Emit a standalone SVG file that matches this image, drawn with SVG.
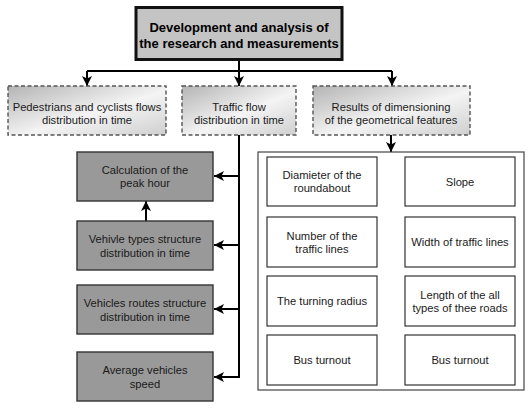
<svg xmlns="http://www.w3.org/2000/svg" width="532" height="409" viewBox="0 0 532 409">
<defs>
<linearGradient id="g" x1="0" y1="0" x2="1" y2="1">
<stop offset="0" stop-color="#b4b4b4"/>
<stop offset="0.55" stop-color="#f4f4f4"/>
<stop offset="1" stop-color="#cfcfcf"/>
</linearGradient>
<marker id="ah" markerUnits="userSpaceOnUse" markerWidth="12" markerHeight="12" refX="10" refY="5" orient="auto">
<path d="M0,0 L10,5 L0,10 L2.5,5 z" fill="#000"/>
</marker>
<style>
text{font-family:"Liberation Sans",Arial,sans-serif;font-size:11.2px;fill:#1a1a1a;text-anchor:middle}
.title{font-weight:bold;font-size:13px;fill:#000}
.top{fill:#c4c4c4;stroke:#111;stroke-width:3}
.dash{fill:url(#g);stroke:#555;stroke-width:1.4;stroke-dasharray:4 2.5}
.dark{fill:#999;stroke:#333;stroke-width:1.4}
.white{fill:#fff;stroke:#333;stroke-width:1.2}
.cont{fill:#fff;stroke:#444;stroke-width:1.2}
.c{fill:none;stroke:#000;stroke-width:2}
.a{fill:none;stroke:#000;stroke-width:2;marker-end:url(#ah)}
</style>
</defs>
<rect width="532" height="409" fill="#fff"/>
<g id="connectors">
<line class="c" x1="239" y1="60" x2="239" y2="71"/>
<line class="c" x1="87" y1="71" x2="392" y2="71"/>
<line class="a" x1="87" y1="71" x2="87" y2="86"/>
<line class="a" x1="239" y1="71" x2="239" y2="86"/>
<line class="a" x1="392" y1="71" x2="392" y2="86"/>
<line class="c" x1="239" y1="135" x2="239" y2="378"/>
<line class="a" x1="240" y1="176" x2="214" y2="176"/>
<line class="a" x1="240" y1="245" x2="214" y2="245"/>
<line class="a" x1="240" y1="309" x2="214" y2="309"/>
<line class="a" x1="240" y1="377" x2="214" y2="377"/>
<line class="a" x1="146" y1="221" x2="146" y2="201"/>
<line class="a" x1="391" y1="135" x2="391" y2="152"/>
</g>
<g id="n-top">
<rect class="top" x="136" y="7.5" width="206" height="52"/>
<text class="title" x="239" y="32">Development and analysis of</text>
<text class="title" x="239" y="48">the research and measurements</text>
</g>
<g id="n-ped">
<rect class="dash" x="8" y="86" width="158" height="49"/>
<text x="87" y="111">Pedestrians and cyclists flows</text>
<text x="87" y="124">distribution in time</text>
</g>
<g id="n-traffic">
<rect class="dash" x="182" y="86" width="114" height="49"/>
<text x="239" y="111">Traffic flow</text>
<text x="239" y="124">distribution in time</text>
</g>
<g id="n-results">
<rect class="dash" x="313" y="86" width="157" height="49"/>
<text x="391" y="111">Results of dimensioning</text>
<text x="391" y="124">of the geometrical features</text>
</g>
<g id="n-peak">
<rect class="dark" x="77" y="152" width="136" height="49"/>
<text x="145" y="174">Calculation of the</text>
<text x="145" y="187">peak hour</text>
</g>
<g id="n-types">
<rect class="dark" x="77" y="221" width="136" height="49"/>
<text x="145" y="243">Vehivle types structure</text>
<text x="145" y="257">distribution in time</text>
</g>
<g id="n-routes">
<rect class="dark" x="77" y="285" width="136" height="49"/>
<text x="145" y="307">Vehicles routes structure</text>
<text x="145" y="321">distribution in time</text>
</g>
<g id="n-speed">
<rect class="dark" x="77" y="352" width="136" height="49"/>
<text x="145" y="374">Average vehicles</text>
<text x="145" y="388">speed</text>
</g>
<g id="n-container">
<rect class="cont" x="258" y="152" width="266" height="238"/>
</g>
<g id="n-diameter">
<rect class="white" x="267" y="157" width="110" height="49"/>
<text x="322" y="179">Diamieter of the</text>
<text x="322" y="192">roundabout</text>
</g>
<g id="n-slope">
<rect class="white" x="405" y="157" width="110" height="49"/>
<text x="460" y="186">Slope</text>
</g>
<g id="n-number">
<rect class="white" x="267" y="217" width="110" height="50"/>
<text x="322" y="240">Number of the</text>
<text x="322" y="253">traffic lines</text>
</g>
<g id="n-width">
<rect class="white" x="405" y="217" width="110" height="50"/>
<text x="460" y="246">Width of traffic lines</text>
</g>
<g id="n-radius">
<rect class="white" x="267" y="276" width="110" height="50"/>
<text x="322" y="305">The turning radius</text>
</g>
<g id="n-length">
<rect class="white" x="405" y="276" width="110" height="50"/>
<text x="460" y="299">Length of the all</text>
<text x="460" y="312">types of thee roads</text>
</g>
<g id="n-bus1">
<rect class="white" x="267" y="335" width="110" height="50"/>
<text x="322" y="364">Bus turnout</text>
</g>
<g id="n-bus2">
<rect class="white" x="405" y="335" width="110" height="50"/>
<text x="460" y="364">Bus turnout</text>
</g>
</svg>
